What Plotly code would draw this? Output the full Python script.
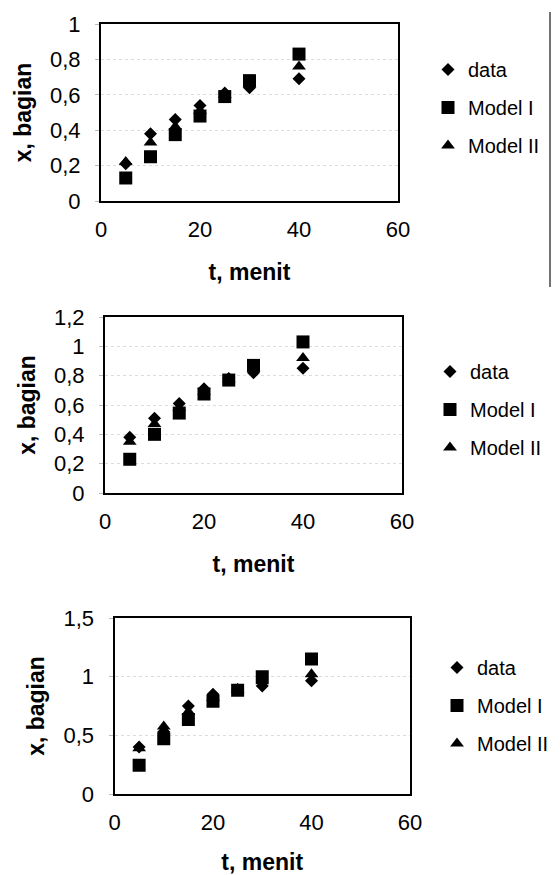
import plotly.graph_objects as go

# ---------------- data ----------------
t_menit = [5, 10, 15, 20, 25, 30, 40]

data_1 = [0.21, 0.38, 0.46, 0.54, 0.61, 0.64, 0.69]
model1_1 = [0.13, 0.25, 0.375, 0.48, 0.59, 0.68, 0.83]
model2_1 = [0.22, 0.33, 0.42, 0.51, 0.60, 0.66, 0.76]

data_2 = [0.38, 0.51, 0.61, 0.71, 0.78, 0.82, 0.85]
model1_2 = [0.23, 0.40, 0.545, 0.675, 0.77, 0.87, 1.03]
model2_2 = [0.35, 0.47, 0.58, 0.69, 0.775, 0.85, 0.92]

data_3 = [0.40, 0.53, 0.75, 0.85, 0.89, 0.92, 0.965]
model1_3 = [0.245, 0.47, 0.635, 0.79, 0.885, 1.0, 1.15]
model2_3 = [0.39, 0.575, 0.70, 0.82, 0.89, 0.96, 1.02]

x_ticks = [0, 20, 40, 60]
x_labels = ["0", "20", "40", "60"]
y_ticks_1 = [0, 0.2, 0.4, 0.6, 0.8, 1.0]
y_labels_1 = ["0", "0,2", "0,4", "0,6", "0,8", "1"]
y_ticks_2 = [0, 0.2, 0.4, 0.6, 0.8, 1.0, 1.2]
y_labels_2 = ["0", "0,2", "0,4", "0,6", "0,8", "1", "1,2"]
y_ticks_3 = [0, 0.5, 1.0, 1.5]
y_labels_3 = ["0", "0,5", "1", "1,5"]

series_names = ["data", "Model I", "Model II"]
x_title = "t, menit"
y_title = "x, bagian"

# ---------------- figure ----------------
# the page body has an 8px default margin, so the figure is drawn 8px smaller
# and every page-pixel position below is shifted by that offset
OFF = 8
W, H = 560 - OFF, 875 - OFF
FONT = "Liberation Sans, Arial, sans-serif"

panels = [
    dict(vals=[data_1, model1_1, model2_1], yt=y_ticks_1, yl=y_labels_1, yr=[0, 1.0],
         box=(101, 398, 24, 201), leg=(428, 50)),
    dict(vals=[data_2, model1_2, model2_2], yt=y_ticks_2, yl=y_labels_2, yr=[0, 1.2],
         box=(105, 402, 317, 493), leg=(430, 352)),
    dict(vals=[data_3, model1_3, model2_3], yt=y_ticks_3, yl=y_labels_3, yr=[0, 1.5],
         box=(114.5, 410, 618, 794), leg=(437, 648)),
]

symbols = ["diamond", "square", "triangle-up"]
sizes = [10, 13, 12]


def px(v):
    return (v - OFF) / W


def py(v):
    return 1 - (v - OFF) / H


fig = go.Figure()
layout = dict(width=W, height=H, margin=dict(l=0, r=0, t=0, b=0, autoexpand=False),
              autosize=False, template="none",
              paper_bgcolor="white", plot_bgcolor="white",
              font=dict(family=FONT, size=20, color="black"))

for i, p in enumerate(panels):
    k = "" if i == 0 else str(i + 1)
    xa, ya = "x" + k, "y" + k
    lg = "legend" + k
    for j in range(3):
        fig.add_trace(go.Scatter(
            x=t_menit, y=p["vals"][j], mode="markers", name=series_names[j],
            marker=dict(symbol=symbols[j], size=sizes[j], color="black"),
            xaxis=xa, yaxis=ya, legend=lg, legendgroup=f"g{i}{j}", showlegend=True))
    x0, x1, y0, y1 = p["box"]
    layout["xaxis" + k] = dict(
        domain=[px(x0), px(x1)], range=[0, 60], anchor=ya, automargin=False,
        tickvals=x_ticks, ticktext=x_labels, tickfont=dict(size=22),
        showline=True, linecolor="black", linewidth=2, mirror=True,
        showgrid=False, zeroline=False, ticks="", ticklabelstandoff=8,
        title=dict(text=x_title, font=dict(size=23, weight="bold"), standoff=22))
    layout["yaxis" + k] = dict(
        domain=[py(y1), py(y0)], range=p["yr"], anchor=xa, automargin=False,
        tickvals=p["yt"], ticktext=p["yl"], tickfont=dict(size=22),
        showline=True, linecolor="black", linewidth=2, mirror=True,
        showgrid=True, gridcolor="#dddddd", griddash="dot", gridwidth=1,
        zeroline=False, ticks="outside", ticklen=4, tickcolor="#bbbbbb",
        ticklabelstandoff=10,
        title=dict(text=y_title, font=dict(size=23, weight="bold"), standoff=12))
    lx, ly = p["leg"]
    layout[lg] = dict(x=px(lx), y=py(ly), xanchor="left", yanchor="top",
                      traceorder="grouped", tracegroupgap=9, itemwidth=30,
                      font=dict(size=20), bgcolor="rgba(0,0,0,0)")

layout["shapes"] = [dict(type="line", xref="paper", yref="paper",
                         x0=px(550), x1=px(550), y0=py(12), y1=py(287),
                         line=dict(color="#444444", width=1.5))]

fig.update_layout(**layout)
fig.write_html("out.html")
